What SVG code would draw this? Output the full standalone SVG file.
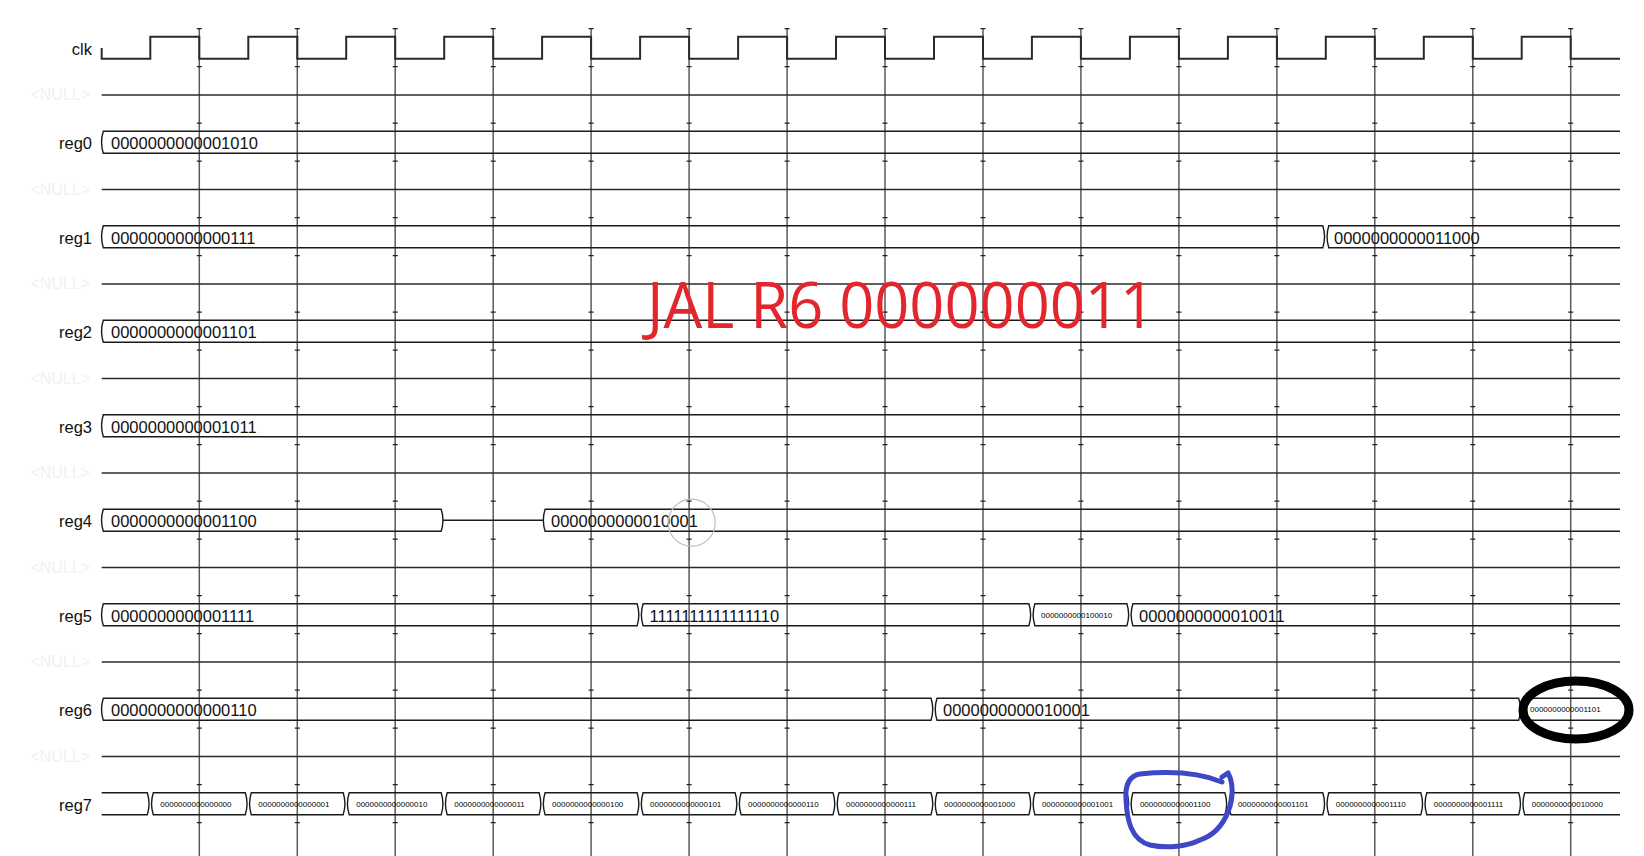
<svg xmlns="http://www.w3.org/2000/svg" xmlns:xlink="http://www.w3.org/1999/xlink" width="1644" height="856" viewBox="0 0 1644 856">
<style>
.bg{fill:#ffffff}
.sig{fill:none;stroke:#1a1a1a;stroke-width:1.4}
.clkw{fill:none;stroke:#2a2a2a;stroke-width:2}
.nl{fill:none;stroke:#2a2a2a;stroke-width:1.6}
.gl{fill:none;stroke:#5a5a5a;stroke-width:1.5}
.tk{fill:none;stroke:#222;stroke-width:1.2}
.lbl{font-family:"Liberation Sans",Arial,sans-serif;font-size:16.5px;fill:#111;text-anchor:end}
.nul{font-family:"Liberation Sans",Arial,sans-serif;font-size:16px;fill:#f1f1f1;text-anchor:end}
.val{font-family:"Liberation Sans",Arial,sans-serif;font-size:16.5px;fill:#111}
.sm{font-family:"Liberation Sans",Arial,sans-serif;font-size:8px;fill:#000}
</style>
<defs>
<g id="col">
<path class="gl" d="M0 28.7V856"/>
<path class="tk" d="M-2.5 28.7h5M-2.5 66.7h5M-2.5 123.2h5M-2.5 161.2h5M-2.5 217.7h5M-2.5 255.7h5M-2.5 312.2h5M-2.5 350.2h5M-2.5 406.7h5M-2.5 444.7h5M-2.5 501.2h5M-2.5 539.2h5M-2.5 595.7h5M-2.5 633.7h5M-2.5 690.2h5M-2.5 728.2h5M-2.5 784.7h5M-2.5 822.7h5"/>
</g>
</defs>
<rect class="bg" x="0" y="0" width="1644" height="856"/>
<g id="grid">
<use xlink:href="#col" x="199.3"/>
<use xlink:href="#col" x="297.3"/>
<use xlink:href="#col" x="395.2"/>
<use xlink:href="#col" x="493.2"/>
<use xlink:href="#col" x="591.1"/>
<use xlink:href="#col" x="689.1"/>
<use xlink:href="#col" x="787.1"/>
<use xlink:href="#col" x="885"/>
<use xlink:href="#col" x="983"/>
<use xlink:href="#col" x="1080.9"/>
<use xlink:href="#col" x="1178.9"/>
<use xlink:href="#col" x="1276.9"/>
<use xlink:href="#col" x="1374.8"/>
<use xlink:href="#col" x="1472.8"/>
<use xlink:href="#col" x="1570.7"/>
</g>
<g id="connectors"></g>
<g id="clk">
<text class="lbl" x="92" y="55">clk</text>
<path class="clkw" d="M101.7 48V58.7H150.3V36.7H199.3V58.7H248.3V36.7H297.3V58.7H346.2V36.7H395.2V58.7H444.2V36.7H493.2V58.7H542.1V36.7H591.1V58.7H640.1V36.7H689.1V58.7H738.1V36.7H787.1V58.7H836V36.7H885V58.7H934V36.7H983V58.7H1031.9V36.7H1080.9V58.7H1129.9V36.7H1178.9V58.7H1227.9V36.7H1276.9V58.7H1325.8V36.7H1374.8V58.7H1423.8V36.7H1472.8V58.7H1521.7V36.7H1570.7V58.7H1620"/>
</g>
<g id="null1"><text class="nul" x="90" y="100">&lt;NULL&gt;</text><path class="nl" d="M101.7 95H1620"/></g>
<g id="reg0">
<text class="lbl" x="92" y="149.2">reg0</text>
<path class="sig" d="M1620 131.2H103.3Q99.8 142.2 103.3 153.2H1620"/>
<text class="val" x="111" y="149.2">0000000000001010</text>
</g>
<g id="null2"><text class="nul" x="90" y="194.5">&lt;NULL&gt;</text><path class="nl" d="M101.7 189.5H1620"/></g>
<g id="reg1">
<text class="lbl" x="92" y="243.7">reg1</text>
<path class="sig" d="M103.3 225.7H1322.8Q1326.3 236.7 1322.8 247.7H103.3Q99.8 236.7 103.3 225.7Z"/>
<path class="sig" d="M1620 225.7H1328.8Q1325.3 236.7 1328.8 247.7H1620"/>
<text class="val" x="111" y="243.7">0000000000000111</text>
<text class="val" x="1334" y="243.7">0000000000011000</text>
</g>
<g id="null3"><text class="nul" x="90" y="289">&lt;NULL&gt;</text><path class="nl" d="M101.7 284H1620"/></g>
<g id="reg2">
<text class="lbl" x="92" y="338.2">reg2</text>
<path class="sig" d="M1620 320.2H103.3Q99.8 331.2 103.3 342.2H1620"/>
<text class="val" x="111" y="338.2">0000000000001101</text>
</g>
<g id="null4"><text class="nul" x="90" y="383.5">&lt;NULL&gt;</text><path class="nl" d="M101.7 378.5H1620"/></g>
<g id="reg3">
<text class="lbl" x="92" y="432.7">reg3</text>
<path class="sig" d="M1620 414.7H103.3Q99.8 425.7 103.3 436.7H1620"/>
<text class="val" x="111" y="432.7">0000000000001011</text>
</g>
<g id="null5"><text class="nul" x="90" y="478">&lt;NULL&gt;</text><path class="nl" d="M101.7 473H1620"/></g>
<g id="reg4">
<text class="lbl" x="92" y="527.2">reg4</text>
<path class="sig" d="M103.3 509.2H441.2Q444.7 520.2 441.2 531.2H103.3Q99.8 520.2 103.3 509.2Z"/>
<path class="sig" d="M443 520.2H543.3"/>
<path class="sig" d="M1620 509.2H545.1Q541.6 520.2 545.1 531.2H1620"/>
<text class="val" x="111" y="527.2">0000000000001100</text>
<text class="val" x="551" y="527.2">0000000000010001</text>
</g>
<g id="null6"><text class="nul" x="90" y="572.5">&lt;NULL&gt;</text><path class="nl" d="M101.7 567.5H1620"/></g>
<g id="reg5">
<text class="lbl" x="92" y="621.7">reg5</text>
<path class="sig" d="M103.3 603.7H637.1Q640.6 614.7 637.1 625.7H103.3Q99.8 614.7 103.3 603.7Z"/>
<path class="sig" d="M643.1 603.7H1028.9Q1032.4 614.7 1028.9 625.7H643.1Q639.6 614.7 643.1 603.7Z"/>
<path class="sig" d="M1034.9 603.7H1126.9Q1130.4 614.7 1126.9 625.7H1034.9Q1031.4 614.7 1034.9 603.7Z"/>
<path class="sig" d="M1620 603.7H1132.9Q1129.4 614.7 1132.9 625.7H1620"/>
<text class="val" x="111" y="621.7">0000000000001111</text>
<text class="val" x="649.5" y="621.7">1111111111111110</text>
<text class="sm" x="1041" y="617.6">0000000000100010</text>
<text class="val" x="1139" y="621.7">0000000000010011</text>
</g>
<g id="null7"><text class="nul" x="90" y="667">&lt;NULL&gt;</text><path class="nl" d="M101.7 662H1620"/></g>
<g id="reg6">
<text class="lbl" x="92" y="716.2">reg6</text>
<path class="sig" d="M103.3 698.2H931Q934.5 709.2 931 720.2H103.3Q99.8 709.2 103.3 698.2Z"/>
<path class="sig" d="M937 698.2H1518.7Q1522.2 709.2 1518.7 720.2H937Q933.5 709.2 937 698.2Z"/>
<path class="sig" d="M1620 698.2H1524.7Q1521.2 709.2 1524.7 720.2H1620"/>
<text class="val" x="111" y="716.2">0000000000000110</text>
<text class="val" x="943" y="716.2">0000000000010001</text>
<text class="sm" x="1530" y="712.1">0000000000001101</text>
</g>
<g id="null8"><text class="nul" x="90" y="761.5">&lt;NULL&gt;</text><path class="nl" d="M101.7 756.5H1620"/></g>
<g id="reg7">
<text class="lbl" x="92" y="810.7">reg7</text>
<path class="sig" d="M101.7 792.7H147.3Q150.8 803.7 147.3 814.7H101.7"/>
<path class="sig" d="M153.3 792.7H245.3Q248.8 803.7 245.3 814.7H153.3Q149.8 803.7 153.3 792.7Z"/>
<path class="sig" d="M251.3 792.7H343.2Q346.7 803.7 343.2 814.7H251.3Q247.8 803.7 251.3 792.7Z"/>
<path class="sig" d="M349.2 792.7H441.2Q444.7 803.7 441.2 814.7H349.2Q345.7 803.7 349.2 792.7Z"/>
<path class="sig" d="M447.2 792.7H539.1Q542.6 803.7 539.1 814.7H447.2Q443.7 803.7 447.2 792.7Z"/>
<path class="sig" d="M545.1 792.7H637.1Q640.6 803.7 637.1 814.7H545.1Q541.6 803.7 545.1 792.7Z"/>
<path class="sig" d="M643.1 792.7H735.1Q738.6 803.7 735.1 814.7H643.1Q639.6 803.7 643.1 792.7Z"/>
<path class="sig" d="M741.1 792.7H833Q836.5 803.7 833 814.7H741.1Q737.6 803.7 741.1 792.7Z"/>
<path class="sig" d="M839 792.7H931Q934.5 803.7 931 814.7H839Q835.5 803.7 839 792.7Z"/>
<path class="sig" d="M937 792.7H1028.9Q1032.4 803.7 1028.9 814.7H937Q933.5 803.7 937 792.7Z"/>
<path class="sig" d="M1034.9 792.7H1126.9Q1130.4 803.7 1126.9 814.7H1034.9Q1031.4 803.7 1034.9 792.7Z"/>
<path class="sig" d="M1132.9 792.7H1224.9Q1228.4 803.7 1224.9 814.7H1132.9Q1129.4 803.7 1132.9 792.7Z"/>
<path class="sig" d="M1230.9 792.7H1322.8Q1326.3 803.7 1322.8 814.7H1230.9Q1227.4 803.7 1230.9 792.7Z"/>
<path class="sig" d="M1328.8 792.7H1420.8Q1424.3 803.7 1420.8 814.7H1328.8Q1325.3 803.7 1328.8 792.7Z"/>
<path class="sig" d="M1426.8 792.7H1518.7Q1522.2 803.7 1518.7 814.7H1426.8Q1423.3 803.7 1426.8 792.7Z"/>
<path class="sig" d="M1620 792.7H1524.7Q1521.2 803.7 1524.7 814.7H1620"/>
<text class="sm" x="160.3" y="806.6">0000000000000000</text>
<text class="sm" x="258.3" y="806.6">0000000000000001</text>
<text class="sm" x="356.2" y="806.6">0000000000000010</text>
<text class="sm" x="454.2" y="806.6">0000000000000011</text>
<text class="sm" x="552.1" y="806.6">0000000000000100</text>
<text class="sm" x="650.1" y="806.6">0000000000000101</text>
<text class="sm" x="748.1" y="806.6">0000000000000110</text>
<text class="sm" x="846" y="806.6">0000000000000111</text>
<text class="sm" x="944" y="806.6">0000000000001000</text>
<text class="sm" x="1041.9" y="806.6">0000000000001001</text>
<text class="sm" x="1139.9" y="806.6">0000000000001100</text>
<text class="sm" x="1237.9" y="806.6">0000000000001101</text>
<text class="sm" x="1335.8" y="806.6">0000000000001110</text>
<text class="sm" x="1433.8" y="806.6">0000000000001111</text>
<text class="sm" x="1531.7" y="806.6">0000000000010000</text>
</g>
<g id="annotations">
<text x="647" y="328" font-family="'Open Sans','Noto Sans',sans-serif" font-size="64" fill="#e3262d" textLength="508" lengthAdjust="spacingAndGlyphs">JAL R6 000000011</text>
<circle cx="691.7" cy="522.7" r="23.5" fill="none" stroke="#bdbdbd" stroke-width="1.2"/>
<ellipse cx="1576" cy="710" rx="53" ry="29" fill="none" stroke="#000" stroke-width="9"/>
<path d="M1222 777L1228 773C1233 782 1234 797 1228 812C1222 827 1212 836 1200 840C1188 846 1168 849 1150 845C1131 840 1127 820 1126 800C1125 786 1128 776 1140 774C1170 771 1200 773 1222 782" fill="none" stroke="#3e47c6" stroke-width="5" stroke-linecap="round" stroke-linejoin="round"/>
</g>
</svg>
